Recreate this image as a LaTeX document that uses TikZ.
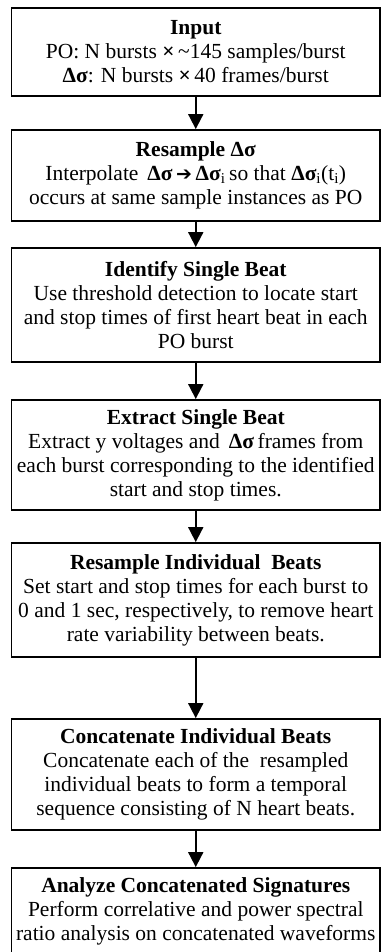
\documentclass[tikz,border=0pt]{standalone}
\usepackage{fontspec}
\setmainfont{Liberation Serif}
\newfontfamily\arrowfont{DejaVu Sans}
\usetikzlibrary{arrows.meta}
\tikzset{
  box/.style={draw, line width=1.8pt, minimum width=368.5pt, inner sep=0pt,
    align=center, font=\fontsize{21.5}{24}\selectfont},
  arr/.style={line width=1.8pt, -{Triangle[width=15pt,length=15pt]}}
}
\begin{document}
\begin{tikzpicture}[x=1pt,y=-1pt]
\useasboundingbox (0,0) rectangle (382,952);
\fill[white] (0,0) rectangle (382,952);
\node[box, minimum height=88pt] (b1) at (195.75,52)
  {\textbf{Input}\\
   PO: N bursts \textbf{×}\,\textasciitilde145 samples/burst\\
   \textbf{Δσ}: N bursts \textbf{×}\,40 frames/burst};
\node[box, minimum height=91pt] (b2) at (195.75,175.5)
  {\textbf{Resample Δσ}\\
   Interpolate \,\textbf{Δσ}\,{\arrowfont\fontsize{19}{24}\selectfont ➔}\,\textbf{Δσ\textsubscript{\mdseries i}}\,so that \textbf{Δσ\textsubscript{\mdseries i}}(t\textsubscript{i})\\
   occurs at same sample instances as PO};
\node[box, minimum height=114pt] (b3) at (195.75,305)
  {\textbf{Identify Single Beat}\\
   Use threshold detection to locate start\\
   and stop times of first heart beat in each\\
   PO burst};
\node[box, minimum height=110pt] (b4) at (195.75,455)
  {\textbf{Extract Single Beat}\\
   Extract y voltages and \,\textbf{Δσ}\,frames from\\
   each burst corresponding to the identified\\
   start and stop times.};
\node[box, minimum height=114pt] (b5) at (195.75,600)
  {\textbf{Resample Individual\ \ Beats}\\
   Set start and stop times for each burst to\\
   0 and 1 sec, respectively, to remove heart\\
   rate variability between beats.};
\node[box, minimum height=111pt] (b6) at (195.75,774.5)
  {\textbf{Concatenate Individual Beats}\\
   Concatenate each of the\ \ resampled\\
   individual beats to form a temporal\\
   sequence consisting of N heart beats.};
\node[box, minimum height=86pt] (b7) at (195.75,911)
  {\textbf{Analyze Concatenated Signatures}\\
   Perform correlative and power spectral\\
   ratio analysis on concatenated waveforms};
\draw[arr] (b1.south) -- (b2.north);
\draw[arr] (b2.south) -- (b3.north);
\draw[arr] (b3.south) -- (b4.north);
\draw[arr] (b4.south) -- (b5.north);
\draw[arr] (b5.south) -- (b6.north);
\draw[arr] (b6.south) -- (b7.north);
\end{tikzpicture}
\end{document}
